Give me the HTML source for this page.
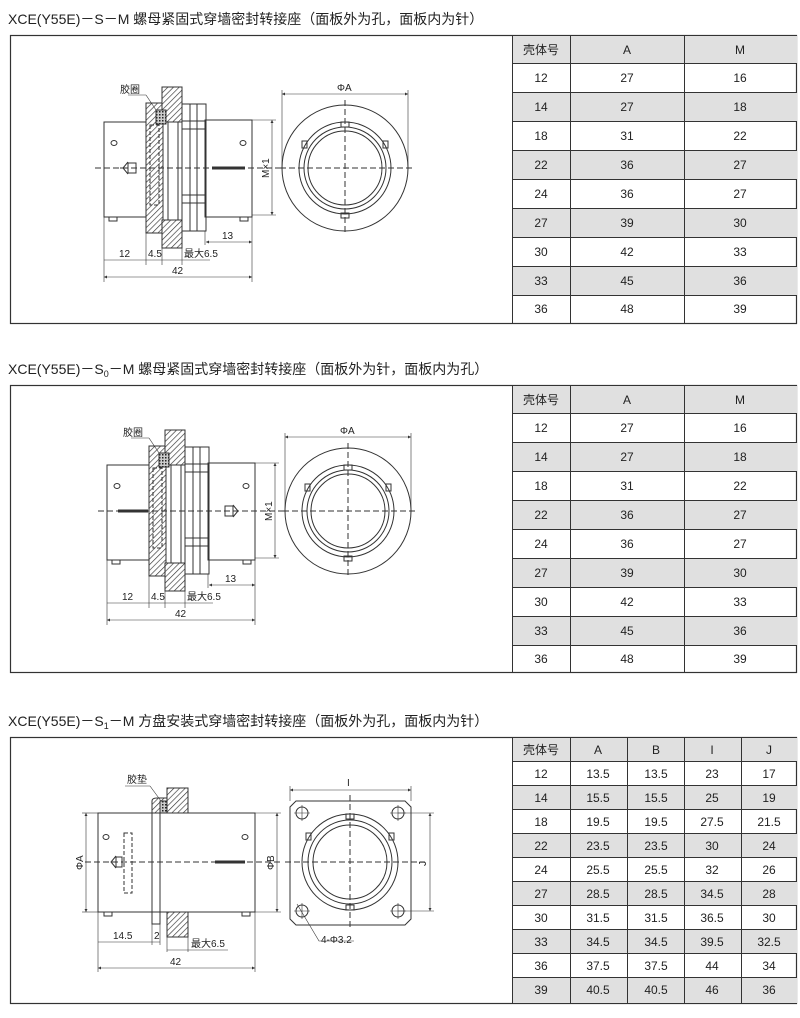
<!DOCTYPE html>
<html><head><meta charset="utf-8"><style>
html,body{margin:0;padding:0;background:#fff;}
svg{display:block;font-family:"Liberation Sans","Noto Sans CJK SC",sans-serif;}
</style></head><body>
<svg width="800" height="1018" viewBox="0 0 800 1018" xmlns="http://www.w3.org/2000/svg">
<defs>
<pattern id="h" width="4" height="4" patternUnits="userSpaceOnUse" patternTransform="rotate(45)">
<rect width="4" height="4" fill="#fff"/><line x1="0" y1="0" x2="0" y2="4" stroke="#333" stroke-width="1.3"/></pattern>
<pattern id="x" width="3" height="3" patternUnits="userSpaceOnUse"><rect width="3" height="3" fill="#ccc"/><rect width="1.5" height="1.5" fill="#222"/></pattern>
<marker id="a" viewBox="0 0 6 6" refX="6" refY="3" markerWidth="5" markerHeight="5" orient="auto-start-reverse"><path d="M0,0L6,3L0,6z" fill="#333"/></marker>
<g id="s1" stroke="#333" fill="none" stroke-width="1">
 <rect x="104" y="122" width="44" height="95"/>
 <rect x="205" y="120" width="47" height="97"/>
 <rect x="146" y="103" width="17" height="130" fill="url(#h)"/>
 <rect x="162" y="87" width="20" height="35" fill="url(#h)"/>
 <rect x="162" y="220" width="20" height="28" fill="url(#h)"/>
 <rect x="156" y="110" width="10" height="14" fill="url(#x)"/>
 <rect x="150" y="125" width="9" height="80" stroke-dasharray="4,2"/>
 <rect x="168" y="122" width="10" height="98"/>
 <rect x="182" y="104" width="24" height="127"/>
 <line x1="190" y1="104" x2="190" y2="231"/><line x1="197" y1="104" x2="197" y2="231"/>
 <rect x="182" y="121" width="24" height="8"/><rect x="182" y="195" width="24" height="8"/>
 <ellipse cx="114" cy="143" rx="3" ry="2.5"/><ellipse cx="243" cy="143" rx="3" ry="2.5"/>
 <rect x="109" y="217" width="8" height="4"/><rect x="240" y="217" width="8" height="4"/>
 <line x1="95" y1="168" x2="285" y2="168" stroke-dasharray="6,3"/>
 <line x1="104" y1="217" x2="104" y2="282" stroke-width=".6"/>
 <line x1="252" y1="217" x2="252" y2="282" stroke-width=".6"/>
 <line x1="146" y1="233" x2="146" y2="265" stroke-width=".6"/>
 <line x1="162" y1="248" x2="162" y2="265" stroke-width=".6"/>
 <line x1="182" y1="248" x2="182" y2="265" stroke-width=".6"/>
 <line x1="205" y1="231" x2="205" y2="245" stroke-width=".6"/>
 <line x1="104" y1="260" x2="182" y2="260" stroke-width=".6"/>
 <line x1="182" y1="260" x2="210" y2="260" stroke-width=".6"/>
 <line x1="104" y1="277" x2="252" y2="277" stroke-width=".6" marker-start="url(#a)" marker-end="url(#a)"/>
 <line x1="206" y1="242" x2="252" y2="242" stroke-width=".6" marker-start="url(#a)" marker-end="url(#a)"/>
 <line x1="272" y1="120" x2="272" y2="215" stroke-width=".6" marker-start="url(#a)" marker-end="url(#a)"/>
 <line x1="252" y1="120" x2="276" y2="120" stroke-width=".6"/><line x1="252" y1="215" x2="276" y2="215" stroke-width=".6"/>
 <line x1="128" y1="95" x2="146" y2="95" stroke-width=".6"/><line x1="146" y1="95" x2="156" y2="110" stroke-width=".6"/>
 <circle cx="345" cy="168" r="63"/><circle cx="345" cy="168" r="46"/><circle cx="345" cy="168" r="41"/><circle cx="345" cy="168" r="37"/>
 <line x1="280" y1="168" x2="415" y2="168" stroke-dasharray="6,3"/>
 <line x1="345" y1="100" x2="345" y2="235" stroke-dasharray="6,3"/>
 <line x1="282" y1="94" x2="408" y2="94" stroke-width=".6" marker-start="url(#a)" marker-end="url(#a)"/>
 <line x1="282" y1="90" x2="282" y2="168" stroke-width=".6"/><line x1="408" y1="90" x2="408" y2="168" stroke-width=".6"/>
 <rect x="341" y="122" width="8" height="5"/><rect x="341" y="213" width="8" height="5"/>
 <rect x="302" y="141" width="5" height="7"/><rect x="383" y="141" width="5" height="7"/>
</g>
</defs>

<g font-size="14" fill="#222">
<text x="8" y="24">XCE(Y55E)－S－M 螺母紧固式穿墙密封转接座（面板外为孔，面板内为针）</text>
<text x="8" y="374">XCE(Y55E)－S<tspan font-size="9" dy="3">0</tspan><tspan dy="-3">－M 螺母紧固式穿墙密封转接座（面板外为针，面板内为孔）</tspan></text>
<text x="8" y="726">XCE(Y55E)－S<tspan font-size="9" dy="3">1</tspan><tspan dy="-3">－M 方盘安装式穿墙密封转接座（面板外为孔，面板内为针）</tspan></text>
</g>

<g fill="none" stroke="#333" stroke-width="1.2">
<rect x="10.5" y="35.5" width="786" height="288"/>
<rect x="10.5" y="385.5" width="786" height="287"/>
<rect x="10.5" y="737.5" width="786" height="266"/>
</g>

<!-- drawing 1 -->
<use href="#s1"/>
<g stroke="#333" fill="none"><path d="M128 162l-5 6 5 6M123 168h-3M128 163h8v10h-8z"/><line x1="212" y1="168" x2="245" y2="168" stroke-width="3"/></g>
<!-- drawing 2 -->
<g transform="translate(3,343)"><use href="#s1"/>
<g stroke="#333" fill="none"><line x1="115" y1="168" x2="145" y2="168" stroke-width="3"/><path d="M230 162l5 6-5 6M222 163h8v10h-8z"/></g></g>

<g font-size="10" fill="#222">
<text x="120" y="93">胶圈</text><text x="119" y="257">12</text><text x="148" y="257">4.5</text><text x="184" y="257">最大6.5</text><text x="222" y="239">13</text><text x="172" y="274">42</text><text x="337" y="91">ΦA</text>
<text transform="translate(269,178) rotate(-90)">M×1</text>
<g transform="translate(3,343)"><text x="120" y="93">胶圈</text><text x="119" y="257">12</text><text x="148" y="257">4.5</text><text x="184" y="257">最大6.5</text><text x="222" y="239">13</text><text x="172" y="274">42</text><text x="337" y="91">ΦA</text>
<text transform="translate(269,178) rotate(-90)">M×1</text></g>
</g>

<!-- drawing 3 -->
<g stroke="#333" fill="none" stroke-width="1">
 <rect x="98" y="813" width="157" height="99"/>
 <rect x="152" y="813" width="8" height="111"/>
 <rect x="167" y="788" width="21" height="25" fill="url(#h)"/>
 <rect x="167" y="912" width="21" height="25" fill="url(#h)"/>
 <path d="M152 813v-12q0-3 5-3h10v15z" fill="url(#h)"/>
 <rect x="160" y="801" width="7" height="12" fill="url(#x)"/>
 <rect x="124" y="833" width="8" height="60" stroke-dasharray="4,2"/>
 <ellipse cx="106" cy="837" rx="3" ry="2.5"/><ellipse cx="245" cy="837" rx="3" ry="2.5"/>
 <rect x="104" y="912" width="8" height="4"/><rect x="242" y="912" width="8" height="4"/>
 <path d="M116 856l-5 6 5 6M116 857h6v10h-6z"/><line x1="215" y1="862" x2="245" y2="862" stroke-width="3"/>
 <line x1="85" y1="862" x2="280" y2="862" stroke-dasharray="6,3"/>
 <line x1="86" y1="813" x2="86" y2="912" stroke-width=".6" marker-start="url(#a)" marker-end="url(#a)"/>
 <line x1="82" y1="813" x2="98" y2="813" stroke-width=".6"/><line x1="82" y1="912" x2="98" y2="912" stroke-width=".6"/>
 <line x1="277" y1="813" x2="277" y2="912" stroke-width=".6" marker-start="url(#a)" marker-end="url(#a)"/>
 <line x1="255" y1="813" x2="281" y2="813" stroke-width=".6"/><line x1="255" y1="912" x2="281" y2="912" stroke-width=".6"/>
 <line x1="98" y1="912" x2="98" y2="972" stroke-width=".6"/><line x1="255" y1="912" x2="255" y2="972" stroke-width=".6"/>
 <line x1="152" y1="924" x2="152" y2="945" stroke-width=".6"/><line x1="160" y1="924" x2="160" y2="945" stroke-width=".6"/>
 <line x1="167" y1="937" x2="167" y2="952" stroke-width=".6"/><line x1="188" y1="937" x2="188" y2="952" stroke-width=".6"/>
 <line x1="98" y1="942" x2="160" y2="942" stroke-width=".6"/>
 <line x1="167" y1="950" x2="228" y2="950" stroke-width=".6"/>
 <line x1="98" y1="968" x2="255" y2="968" stroke-width=".6" marker-start="url(#a)" marker-end="url(#a)"/>
 <line x1="125" y1="786" x2="150" y2="786" stroke-width=".6"/><line x1="150" y1="786" x2="161" y2="801" stroke-width=".6"/>
 <path d="M296 801h109l6 6v112l-6 6h-109l-6-6v-112z"/>
 <circle cx="350" cy="862" r="48"/><circle cx="350" cy="862" r="42"/><circle cx="350" cy="862" r="37"/>
 <rect x="346" y="814" width="8" height="5"/><rect x="346" y="905" width="8" height="5"/>
 <rect x="306" y="833" width="5" height="7"/><rect x="389" y="833" width="5" height="7"/>
 <circle cx="302" cy="813" r="6"/><circle cx="398" cy="813" r="6"/><circle cx="302" cy="911" r="6"/><circle cx="398" cy="911" r="6"/>
 <path d="M302 805v16M294 813h16M398 805v16M390 813h16M302 903v16M294 911h16M398 903v16M390 911h16" stroke-width=".6"/>
 <line x1="285" y1="862" x2="425" y2="862" stroke-dasharray="6,3"/>
 <line x1="350" y1="795" x2="350" y2="930" stroke-dasharray="6,3"/>
 <line x1="290" y1="790" x2="411" y2="790" stroke-width=".6" marker-start="url(#a)" marker-end="url(#a)"/>
 <line x1="290" y1="786" x2="290" y2="801" stroke-width=".6"/><line x1="411" y1="786" x2="411" y2="801" stroke-width=".6"/>
 <line x1="430" y1="813" x2="430" y2="911" stroke-width=".6" marker-start="url(#a)" marker-end="url(#a)"/>
 <line x1="398" y1="813" x2="434" y2="813" stroke-width=".6"/><line x1="398" y1="911" x2="434" y2="911" stroke-width=".6"/>
 <path d="M297 904l22 37h35" stroke-width=".6"/>
</g>
<g font-size="10" fill="#222">
<text x="127" y="783">胶垫</text><text x="113" y="939">14.5</text><text x="154" y="939">2</text><text x="191" y="947">最大6.5</text><text x="170" y="965">42</text>
<text x="347" y="786">I</text><text x="321" y="943">4-Φ3.2</text>
<text transform="translate(83,870) rotate(-90)">ΦA</text><text transform="translate(274,870) rotate(-90)">ΦB</text><text transform="translate(426,866) rotate(-90)">J</text>
</g>

<!-- table 1 & 2 -->
<g id="t1">
<g fill="#e0e0e0"><rect x="512" y="36" width="285" height="27"/><rect x="512" y="92" width="285" height="29"/><rect x="512" y="150" width="285" height="29"/><rect x="512" y="208" width="285" height="29"/><rect x="512" y="266" width="285" height="29"/></g>
<g stroke="#333" stroke-width="1"><line x1="512.5" y1="36" x2="512.5" y2="323"/><line x1="570.5" y1="36" x2="570.5" y2="323"/><line x1="684.5" y1="36" x2="684.5" y2="323"/>
<path d="M512 63.5h285M512 92.5h285M512 121.5h285M512 150.5h285M512 179.5h285M512 208.5h285M512 237.5h285M512 266.5h285M512 295.5h285"/></g>
<g font-size="12" fill="#222" text-anchor="middle">
<text x="541" y="54">壳体号</text><text x="627" y="54">A</text><text x="740" y="54">M</text>
<text x="541" y="82">12</text><text x="627" y="82">27</text><text x="740" y="82">16</text>
<text x="541" y="111">14</text><text x="627" y="111">27</text><text x="740" y="111">18</text>
<text x="541" y="140">18</text><text x="627" y="140">31</text><text x="740" y="140">22</text>
<text x="541" y="169">22</text><text x="627" y="169">36</text><text x="740" y="169">27</text>
<text x="541" y="198">24</text><text x="627" y="198">36</text><text x="740" y="198">27</text>
<text x="541" y="227">27</text><text x="627" y="227">39</text><text x="740" y="227">30</text>
<text x="541" y="256">30</text><text x="627" y="256">42</text><text x="740" y="256">33</text>
<text x="541" y="285">33</text><text x="627" y="285">45</text><text x="740" y="285">36</text>
<text x="541" y="313">36</text><text x="627" y="313">48</text><text x="740" y="313">39</text>
</g></g>
<use href="#t1" transform="translate(0,350)"/>

<!-- table 3 -->
<g fill="#e0e0e0"><rect x="512" y="738" width="285" height="23"/>
<rect x="512" y="785" width="285" height="24"/><rect x="512" y="833" width="285" height="24"/><rect x="512" y="881" width="285" height="24"/><rect x="512" y="929" width="285" height="24"/><rect x="512" y="977" width="285" height="26"/></g>
<g stroke="#333" stroke-width="1"><path d="M512.5 738v265M570.5 738v265M627.5 738v265M684.5 738v265M741.5 738v265"/>
<path d="M512 761.5h285M512 785.5h285M512 809.5h285M512 833.5h285M512 857.5h285M512 881.5h285M512 905.5h285M512 929.5h285M512 953.5h285M512 977.5h285"/></g>
<g font-size="12" fill="#222" text-anchor="middle">
<text x="541" y="754">壳体号</text><text x="598" y="754">A</text><text x="656" y="754">B</text><text x="712" y="754">I</text><text x="769" y="754">J</text>
<text x="541" y="778">12</text><text x="598" y="778">13.5</text><text x="656" y="778">13.5</text><text x="712" y="778">23</text><text x="769" y="778">17</text>
<text x="541" y="802">14</text><text x="598" y="802">15.5</text><text x="656" y="802">15.5</text><text x="712" y="802">25</text><text x="769" y="802">19</text>
<text x="541" y="826">18</text><text x="598" y="826">19.5</text><text x="656" y="826">19.5</text><text x="712" y="826">27.5</text><text x="769" y="826">21.5</text>
<text x="541" y="850">22</text><text x="598" y="850">23.5</text><text x="656" y="850">23.5</text><text x="712" y="850">30</text><text x="769" y="850">24</text>
<text x="541" y="874">24</text><text x="598" y="874">25.5</text><text x="656" y="874">25.5</text><text x="712" y="874">32</text><text x="769" y="874">26</text>
<text x="541" y="898">27</text><text x="598" y="898">28.5</text><text x="656" y="898">28.5</text><text x="712" y="898">34.5</text><text x="769" y="898">28</text>
<text x="541" y="922">30</text><text x="598" y="922">31.5</text><text x="656" y="922">31.5</text><text x="712" y="922">36.5</text><text x="769" y="922">30</text>
<text x="541" y="946">33</text><text x="598" y="946">34.5</text><text x="656" y="946">34.5</text><text x="712" y="946">39.5</text><text x="769" y="946">32.5</text>
<text x="541" y="970">36</text><text x="598" y="970">37.5</text><text x="656" y="970">37.5</text><text x="712" y="970">44</text><text x="769" y="970">34</text>
<text x="541" y="994">39</text><text x="598" y="994">40.5</text><text x="656" y="994">40.5</text><text x="712" y="994">46</text><text x="769" y="994">36</text>
</g>
</svg>
</body></html>
